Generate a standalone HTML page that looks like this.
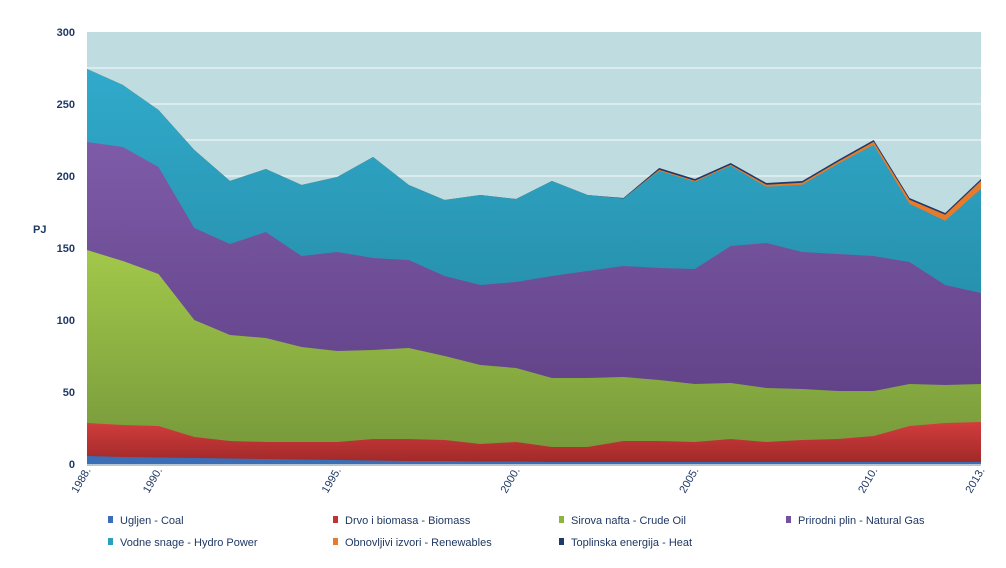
<!DOCTYPE html>
<html><head><meta charset="utf-8"><style>
body{margin:0;background:#fff;width:1006px;height:563px;overflow:hidden;font-family:"Liberation Sans",sans-serif}
</style></head><body>
<svg id="s" width="1006" height="563" xmlns="http://www.w3.org/2000/svg" font-family="Liberation Sans, sans-serif">
<defs>
<linearGradient id="gH" x1="0" y1="0" x2="0" y2="1"><stop offset="0" stop-color="#31aacb"/><stop offset="1" stop-color="#1f7f98"/></linearGradient>
<linearGradient id="gG" x1="0" y1="0" x2="0" y2="1"><stop offset="0" stop-color="#7e5ba8"/><stop offset="1" stop-color="#5a3c80"/></linearGradient>
<linearGradient id="gO" x1="0" y1="0" x2="0" y2="1"><stop offset="0" stop-color="#a2c84a"/><stop offset="1" stop-color="#74963a"/></linearGradient>
<linearGradient id="gB" x1="0" y1="0" x2="0" y2="1"><stop offset="0" stop-color="#d23d3d"/><stop offset="1" stop-color="#9f2828"/></linearGradient>
</defs>
<rect x="87" y="32" width="894" height="432" fill="#bfdce1"/>
<g stroke="#e6f1f3" stroke-width="1.5">
<line x1="87" x2="981" y1="68" y2="68"/><line x1="87" x2="981" y1="104" y2="104"/><line x1="87" x2="981" y1="140" y2="140"/><line x1="87" x2="981" y1="176" y2="176"/>
<line x1="87" x2="981" y1="248" y2="248"/><line x1="87" x2="981" y1="320" y2="320"/><line x1="87" x2="981" y1="392" y2="392"/>
</g>
<g id="areas"></g>
<line x1="87" x2="981" y1="465" y2="465" stroke="#b8c4d0" stroke-width="2"/>
<g fill="#1f3864" font-size="11" font-weight="bold" text-anchor="end">
<text x="75" y="36">300</text><text x="75" y="108">250</text><text x="75" y="180">200</text>
<text x="75" y="252">150</text><text x="75" y="324">100</text><text x="75" y="396">50</text><text x="75" y="468">0</text>
</g>
<text x="33" y="233" fill="#1f3864" font-size="11" font-weight="bold">PJ</text>
<g fill="#1f3864" font-size="11" text-anchor="end" id="xl"></g>
<g font-size="11" fill="#1f3864">
<rect x="108" y="516" width="5" height="7" fill="#3a6fb8"/><text x="120" y="524">Ugljen - Coal</text>
<rect x="333" y="516" width="5" height="7" fill="#c03434"/><text x="345" y="524">Drvo i biomasa - Biomass</text>
<rect x="559" y="516" width="5" height="7" fill="#8db43f"/><text x="571" y="524">Sirova nafta - Crude Oil</text>
<rect x="786" y="516" width="5" height="7" fill="#7350a0"/><text x="798" y="524">Prirodni plin - Natural Gas</text>
<rect x="108" y="538" width="5" height="7" fill="#2aa0bf"/><text x="120" y="546">Vodne snage - Hydro Power</text>
<rect x="333" y="538" width="5" height="7" fill="#e87b2a"/><text x="345" y="546">Obnovljivi izvori - Renewables</text>
<rect x="559" y="538" width="5" height="7" fill="#1f3a6a"/><text x="571" y="546">Toplinska energija - Heat</text>
</g>
</svg>
<script>
var X=[];for(var i=0;i<26;i++)X.push(87+35.76*i);
var tot=[69,85,110,150,181,169,185,177,157,185,200,195,199,181,195,198,168,179,163,183,181,160,140,198,213,179];
var r=[0,0,0,0,0,0,0,0,0,0,0,0,0,0,0,0,1,1,1,2,2,2,3,4,6,8];
var gas=[142,147,167,228,244,232,256,252,258,260,276,285,282,276,271,266,268,269,246,243,252,254,256,262,285,293];
var oil=[250,261,274,320,335,338,347,351,350,348,356,365,368,378,378,377,380,384,383,388,389,391,391,384,385,384];
var bio=[423,425,426,437,441,442,442,442,439,439,440,444,442,447,447,441,441,442,439,442,440,439,436,426,423,422];
var coal=[456,457,457.5,458,458.5,459,459.5,460,460.5,461,461,461.5,461.5,462,462,462,462,462,462,462,462,462,462,462,462,462];
var ren=tot.map(function(v,i){return v+(i>=16?1.8:(i==15?0.6:0))});
var hyd=ren.map(function(v,i){return v+r[i]});
function poly(t,f){var p=[];for(var i=0;i<26;i++)p.push(X[i].toFixed(1)+","+t[i]);p.push("981,464","87,464");
return '<polygon points="'+p.join(" ")+'" fill="'+f+'"/>';}
var h=poly(tot,"#1f3a6a")+poly(ren,"#e87b2a")+poly(hyd,"url(#gH)")+poly(gas,"url(#gG)")+poly(oil,"url(#gO)")+poly(bio,"url(#gB)")+poly(coal,"#3a6fb8");
document.getElementById("areas").innerHTML=h;
var yrs=[[0,"1988."],[2,"1990."],[7,"1995."],[12,"2000."],[17,"2005."],[22,"2010."],[25,"2013."]],s="";
yrs.forEach(function(a){var x=X[a[0]]+4,y=470;s+='<text transform="translate('+x+','+y+') rotate(-60)" x="0" y="0">'+a[1]+'</text>';});
document.getElementById("xl").innerHTML=s;
</script>
</body></html>
